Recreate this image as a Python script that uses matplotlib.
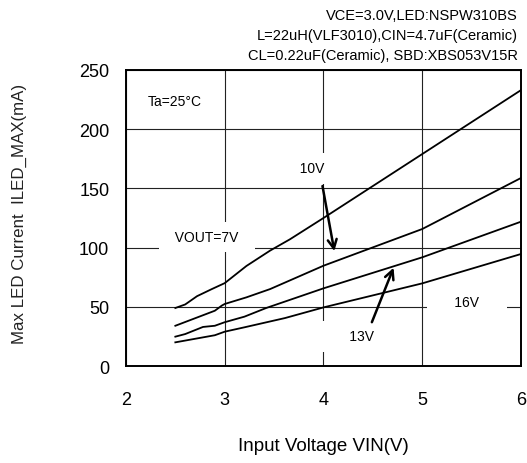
import matplotlib
matplotlib.use('Agg')
import matplotlib.pyplot as plt

plt.rcParams['font.family'] = ['Liberation Sans', 'DejaVu Sans']

# 曲线数据 (VIN, ILED_MAX)
vin_7v = [2.5, 2.6, 2.72, 2.87, 3.0, 3.22, 3.46, 3.66, 4.0, 5.0, 6.0]
iled_7v = [49, 52, 59, 65, 70, 84.5, 97.5, 107, 125, 179, 233]

vin_10v = [2.5, 2.9, 2.97, 3.0, 3.22, 3.46, 4.0, 5.0, 6.0]
iled_10v = [34, 46.7, 51, 52.4, 58, 65, 84.7, 115.7, 158.8]

vin_13v = [2.5, 2.6, 2.78, 2.9, 3.0, 3.2, 3.42, 4.0, 5.0, 6.0]
iled_13v = [24.8, 27, 33, 34, 37, 41.7, 49, 65.6, 91.8, 121.9]

vin_16v = [2.5, 2.9, 3.0, 3.2, 3.61, 4.0, 5.0, 6.0]
iled_16v = [20, 26, 29, 32.7, 40.5, 49.5, 69.8, 94.6]

x_ticks = [2, 3, 4, 5, 6]
y_ticks = [0, 50, 100, 150, 200, 250]

header_lines = ["VCE=3.0V,LED:NSPW310BS",
                "L=22uH(VLF3010),CIN=4.7uF(Ceramic)",
                "CL=0.22uF(Ceramic), SBD:XBS053V15R"]

fig = plt.figure(figsize=(5.27, 4.64), dpi=100)
ax = fig.add_axes([0.239, 0.209, 0.7496, 0.638])

for xs, ys in [(vin_7v, iled_7v), (vin_10v, iled_10v), (vin_13v, iled_13v), (vin_16v, iled_16v)]:
    ax.plot(xs, ys, color='black', lw=1.3, zorder=3)

ax.set_xlim(2, 6)
ax.set_ylim(0, 250)
ax.set_xticks(x_ticks)
ax.set_yticks(y_ticks)
ax.grid(True, color='#222222', lw=0.8, zorder=1)
ax.set_axisbelow(True)
ax.tick_params(axis='both', length=0, labelsize=13)
ax.tick_params(axis='x', pad=18)
ax.tick_params(axis='y', pad=12)
for s in ax.spines.values():
    s.set_linewidth(1.4)
    s.set_zorder(5)

ax.set_xlabel("Input Voltage VIN(V)", fontsize=13.5)
ax.xaxis.set_label_coords(0.5, -0.24)
ax.set_ylabel("Max LED Current  ILED_MAX(mA)", fontsize=12.2, color='#222222')
ax.yaxis.set_label_coords(-0.25, 0.517)

for i, line in enumerate(header_lines):
    fig.text(0.982, 0.966 - i * 0.043, line, ha='right', va='center', fontsize=10.5)

box = dict(boxstyle='square,pad=0.6', fc='white', ec='none')

ax.text(2.22, 224, "Ta=25°C", fontsize=10, ha='left', va='center', zorder=4)
ax.text(2.82, 109, "  VOUT=7V  ", fontsize=10, ha='center', va='center', bbox=box, zorder=4)
ax.text(5.45, 54, "     16V     ", fontsize=10, ha='center', va='center', bbox=box, zorder=4)
ax.text(3.88, 167, "  10V  ", fontsize=10, ha='center', va='center', bbox=box, zorder=4)
ax.text(4.385, 25, "     13V     ", fontsize=10, ha='center', va='center', bbox=box, zorder=4)

arrow = dict(arrowstyle='->', color='black', lw=1.8, mutation_scale=16,
             shrinkA=0, shrinkB=0)
ax.annotate("", xy=(4.11, 97), xytext=(3.99, 152), arrowprops=arrow, zorder=6)
ax.annotate("", xy=(4.71, 83), xytext=(4.49, 37), arrowprops=arrow, zorder=6)

plt.savefig('out.png', dpi=100)
